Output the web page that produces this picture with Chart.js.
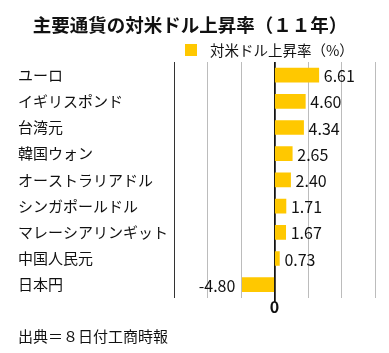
<!DOCTYPE html>
<html>
<head>
<meta charset="utf-8">
<script src="https://cdn.jsdelivr.net/npm/chart.js@4.4.1/dist/chart.umd.min.js"></script>
<style>
  html, body { margin: 0; padding: 0; background: #fff; }
  #wrap { width: 389px; height: 353px; position: relative; }
</style>
</head>
<body>
<div id="wrap"><canvas id="c" width="389" height="353"></canvas></div>
<script>
const titleText = '主要通貨の対米ドル上昇率（１１年）';
const seriesName = '対米ドル上昇率（%）';
const sourceText = '出典＝８日付工商時報';
const categories = ['ユーロ', 'イギリスポンド', '台湾元', '韓国ウォン', 'オーストラリアドル', 'シンガポールドル', 'マレーシアリンギット', '中国人民元', '日本円'];
const values = [6.61, 4.60, 4.34, 2.65, 2.40, 1.71, 1.67, 0.73, -4.80];
const xTicks = [-15, -10, -5, 0, 5, 10, 15];

const FONT = '"Noto Sans CJK JP", "Noto Sans", sans-serif';
const BAR = '#FFC800';

const isZero = v => v === 0;
const gridColors = xTicks.map(v => isZero(v) ? '#111111' : '#bcbcbc');
const gridWidths = xTicks.map(v => isZero(v) ? 1.5 : 1);
const tickColors = xTicks.map(v => isZero(v) ? '#111111' : '#ffffff');

// draws the vertical grid lines at the x scale's own tick pixels
const gridPlugin = {
  id: 'gridPlugin',
  beforeDatasetsDraw(chart) {
    const ctx = chart.ctx;
    const xs = chart.scales.x;
    const area = chart.chartArea;
    ctx.save();
    xs.ticks.forEach(t => {
      const zero = isZero(t.value);
      const w = zero ? 1.5 : 1;
      const px = Math.round(xs.getPixelForValue(t.value) - w / 2) + w / 2;
      if (px < area.left + 1) return;
      ctx.beginPath();
      ctx.lineWidth = w;
      ctx.strokeStyle = zero ? '#111111' : '#bcbcbc';
      ctx.moveTo(px, area.top);
      ctx.lineTo(px, area.bottom + (zero ? 4 : 0));
      ctx.stroke();
    });
    ctx.restore();
  }
};

const decor = {
  id: 'decor',
  afterDraw(chart) {
    const ctx = chart.ctx;
    ctx.save();
    ctx.fillStyle = '#111';
    ctx.font = 'bold 18.5px ' + FONT;
    ctx.textAlign = 'center';
    ctx.textBaseline = 'middle';
    ctx.fillText(titleText, 190, 25);
    ctx.fillStyle = BAR;
    ctx.fillRect(185, 44, 12, 12);
    ctx.fillStyle = '#111';
    ctx.font = '14.5px ' + FONT;
    ctx.textAlign = 'left';
    ctx.fillText(seriesName, 210, 50);
    ctx.font = '15px ' + FONT;
    ctx.fillText(sourceText, 18, 336);
    const meta = chart.getDatasetMeta(0);
    ctx.font = '16px ' + FONT;
    meta.data.forEach((bar, i) => {
      const v = values[i];
      const s = v.toFixed(2);
      if (v >= 0) { ctx.textAlign = 'left'; ctx.fillText(s, bar.x + 5, bar.y + 1); }
      else { ctx.textAlign = 'right'; ctx.fillText(s, bar.x - 7, bar.y + 1); }
    });
    ctx.restore();
  }
};

new Chart(document.getElementById('c'), {
  type: 'bar',
  data: {
    labels: categories,
    datasets: [{
      label: seriesName,
      data: values,
      backgroundColor: BAR,
      borderWidth: 0,
      barThickness: 14
    }]
  },
  options: {
    indexAxis: 'y',
    responsive: false,
    animation: false,
    layout: { padding: { left: 18, right: 14, top: 62, bottom: 40 } },
    plugins: { legend: { display: false }, title: { display: false }, tooltip: { enabled: false } },
    scales: {
      x: {
        min: xTicks[0], max: xTicks[xTicks.length - 1],
        afterBuildTicks: s => { s.ticks = xTicks.map(v => ({ value: v })); },
        ticks: {
          autoSkip: false,
          callback: v => v === 0 ? '0' : '',
          font: { family: FONT, size: 16, weight: 'bold' },
          color: '#111',
          padding: -4,
          maxRotation: 0
        },
        grid: {
          color: gridColors,
          lineWidth: gridWidths,
          tickColor: tickColors,
          tickLength: 4
        },
        border: { display: false }
      },
      y: {
        afterFit: s => { s.width = 156; },
        ticks: {
          crossAlign: 'far',
          font: { family: FONT, size: 15 },
          color: '#111',
          padding: 0
        },
        grid: { display: false, drawTicks: false },
        border: { display: true, color: '#333', width: 1 }
      }
    }
  },
  plugins: [gridPlugin, decor]
});
</script>
</body>
</html>
